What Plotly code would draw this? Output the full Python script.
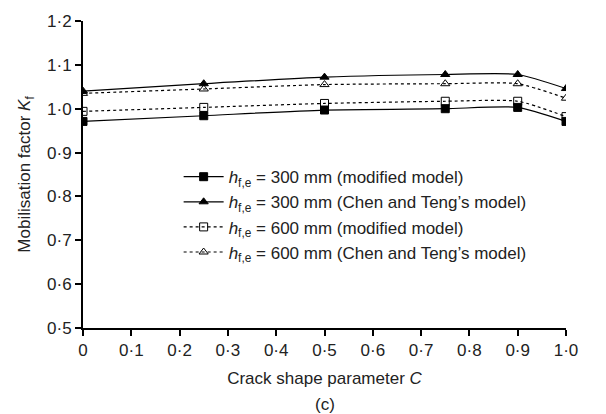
import plotly.graph_objects as go

C = [0, 0.25, 0.5, 0.75, 0.9, 1.0]
k300_mod = [0.971, 0.984, 0.997, 1.000, 1.003, 0.971]
k300_ct = [1.040, 1.057, 1.072, 1.078, 1.078, 1.046]
k600_mod = [0.994, 1.003, 1.012, 1.017, 1.017, 0.982]
k600_ct = [1.035, 1.045, 1.055, 1.057, 1.057, 1.024]

names = [
    "<i>h</i><sub>f,e</sub> = 300 mm (modified model)",
    "<i>h</i><sub>f,e</sub> = 300 mm (Chen and Teng’s model)",
    "<i>h</i><sub>f,e</sub> = 600 mm (modified model)",
    "<i>h</i><sub>f,e</sub> = 600 mm (Chen and Teng’s model)",
]
series = [k300_mod, k300_ct, k600_mod, k600_ct]
symbols = ["square", "triangle-up", "square-open", "triangle-up-open"]
dashes = ["solid", "solid", "dot", "dot"]

xticks = [i / 10 for i in range(11)]
xticktext = ["0"] + ["0·%d" % i for i in range(1, 10)] + ["1·0"]
yticks = [0.5 + i / 10 for i in range(8)]
yticktext = ["0·5", "0·6", "0·7", "0·8", "0·9", "1·0", "1·1", "1·2"]

fig = go.Figure()
for name, ys, sym, dash in zip(names, series, symbols, dashes):
    fig.add_trace(go.Scatter(
        x=C, y=ys, name=name, mode="lines+markers",
        line=dict(color="black", width=1.2, dash=dash, shape="spline", smoothing=0.6),
        marker=dict(symbol=sym, size=8, color="black", line=dict(color="black", width=1)),
    ))

FS = 17
font = dict(family="Liberation Sans, Arial, sans-serif", size=FS, color="#222")
fig.update_layout(
    width=606, height=414,
    margin=dict(l=83, r=40, t=19, b=86),
    paper_bgcolor="white", plot_bgcolor="white",
    font=font,
    showlegend=True,
    legend=dict(x=0.198, y=0.55, xanchor="left", yanchor="top", bgcolor="rgba(0,0,0,0)",
                font=dict(size=FS), tracegroupgap=0, itemwidth=40),
    xaxis=dict(range=[0, 1.0], tickvals=xticks, ticktext=xticktext, showgrid=False,
               zeroline=False, showline=True, linecolor="black", linewidth=2,
               ticks="outside", ticklen=6, tickwidth=2, tickcolor="black",
               tickfont=dict(size=FS),
               title=dict(text="Crack shape parameter <i>C</i>", standoff=13, font=dict(size=FS))),
    yaxis=dict(range=[0.5, 1.2], tickvals=yticks, ticktext=yticktext, showgrid=False,
               zeroline=False, showline=True, linecolor="black", linewidth=2,
               ticks="outside", ticklen=6, tickwidth=2, tickcolor="black",
               tickfont=dict(size=FS),
               title=dict(text="Mobilisation factor <i>K</i><sub>f</sub>", standoff=12, font=dict(size=FS))),
    annotations=[dict(text="(c)", x=0.5, y=-0.249, xref="paper", yref="paper",
                      showarrow=False, yanchor="middle", font=dict(size=FS))],
)
fig.write_html("out.html")
